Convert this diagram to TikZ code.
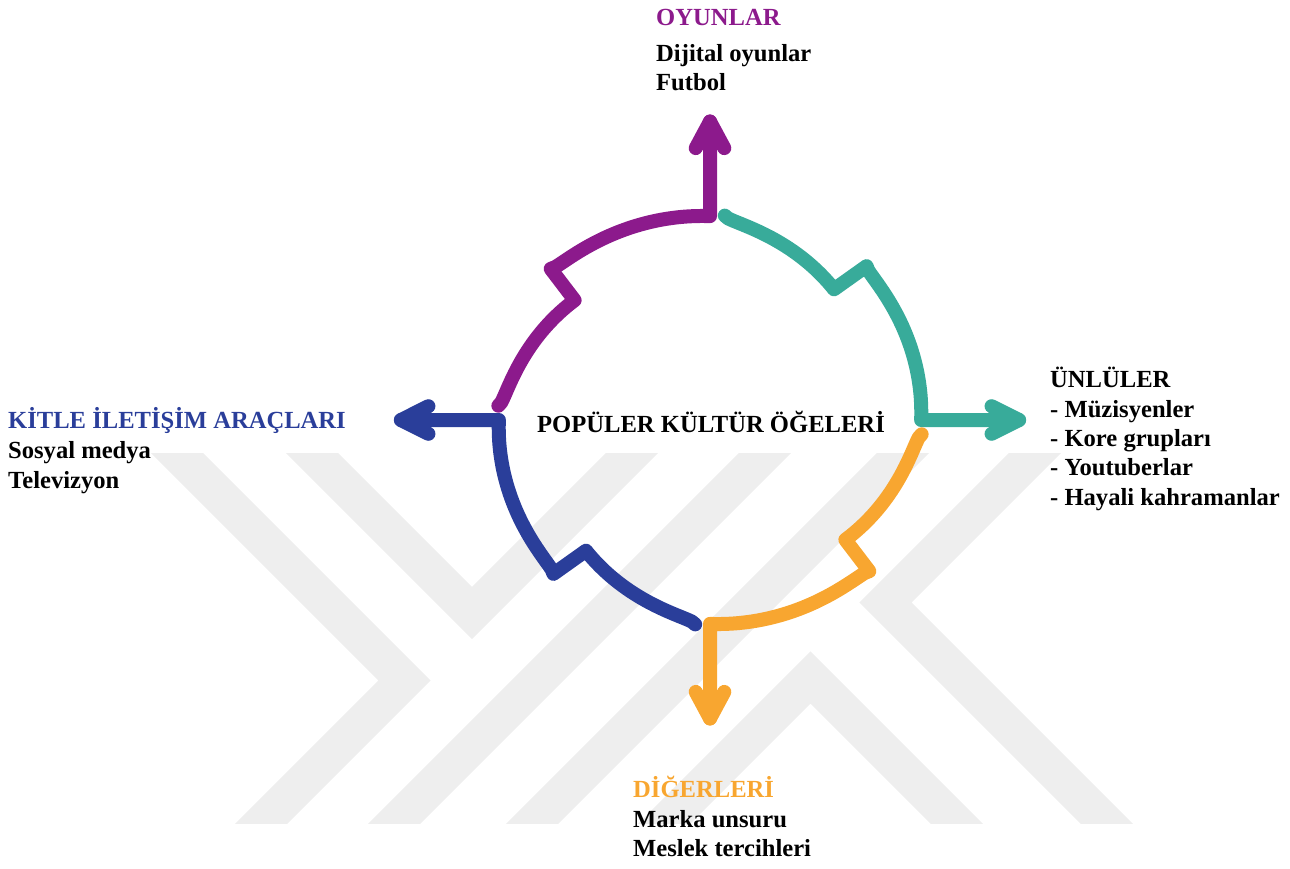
\documentclass[tikz,border=0pt]{standalone}
\usepackage{fontspec}
\setmainfont{Liberation Serif}
\definecolor{cpurple}{RGB}{140,26,140}
\definecolor{cteal}{RGB}{56,171,154}
\definecolor{corange}{RGB}{248,166,48}
\definecolor{cblue}{RGB}{42,62,154}
\definecolor{wm}{RGB}{238,238,238}
\begin{document}
\begin{tikzpicture}[x=1pt,y=1pt,
  declare function={rA(\t)=208-14*((86-\t)/38.5+sqrt((86-\t)/38.5)); rB(\t)=219-12*sqrt((45.5-\t)/45.5);},
  piece/.style={line width=14pt,line cap=round,line join=round},
  band/.style={line width=37pt,draw=wm,line join=miter},
  lbl/.style={anchor=base west,inner sep=0pt,font=\fontsize{24.6}{29.5}\selectfont\bfseries}]
\useasboundingbox (0,0) rectangle (1290,-868);
% background watermark
\begin{scope}
\clip (0,-453) rectangle (1290,-823);
\draw[band] (144,-420) -- (404.5,-680.5) -- (225,-860);
\draw[band] (279,-420) -- (472,-613) -- (665,-420);
\draw[band] (798,-420) -- (358,-860);
\draw[band] (936,-420) -- (496,-860);
\draw[band] (1068,-420) -- (885.5,-602.5) -- (1143,-860);
\draw[band] (628,-860) -- (810.5,-677.5) -- (993,-860);
\end{scope}
% four stepped arcs with arrows
\begin{scope}[shift={(710,-420)},xscale=1.02,yscale=0.985]
\foreach \ang/\col/\nm in {0/cteal/te,90/cpurple/pu,180/cblue/bl,270/corange/or}{
  \begin{scope}[rotate=\ang]
    \coordinate (\nm C) at (207,0);
    \coordinate (\nm T) at (303,0);
    \coordinate (\nm L) at (276,14);
    \coordinate (\nm R) at (276,-14);
    \draw[piece,draw=\col] plot[domain=86:47.5,samples=40] ({rA(\x)*cos(\x)},{rA(\x)*sin(\x)})
      -- plot[domain=45.5:0,samples=40] ({rB(\x)*cos(\x)},{rB(\x)*sin(\x)})
      -- (\nm C) -- (\nm T);
    \draw[piece,draw=\col] (\nm L) -- (\nm T) -- (\nm R);
  \end{scope}
}
\end{scope}
% texts
\node[lbl,text=cpurple] (oyT) at (656,-25) {OYUNLAR};
\node[lbl] (oy1) at (656,-61.5) {Dijital oyunlar};
\node[lbl] (oy2) at (656,-90.5) {Futbol};
\node[lbl,text=cblue] (kiT) at (8,-428) {KİTLE İLETİŞİM ARAÇLARI};
\node[lbl] (ki1) at (8,-458) {Sosyal medya};
\node[lbl] (ki2) at (8,-488) {Televizyon};
\node[lbl] (unT) at (1050,-387) {ÜNLÜLER};
\node[lbl] (un1) at (1050,-417) {- Müzisyenler};
\node[lbl] (un2) at (1050,-446) {- Kore grupları};
\node[lbl] (un3) at (1050,-475.5) {- Youtuberlar};
\node[lbl] (un4) at (1050,-505) {- Hayali kahramanlar};
\node[lbl,anchor=base] (center) at (711,-432) {POPÜLER KÜLTÜR ÖĞELERİ};
\node[lbl,text=corange] (diT) at (633,-797) {DİĞERLERİ};
\node[lbl] (di1) at (633,-827) {Marka unsuru};
\node[lbl] (di2) at (633,-856) {Meslek tercihleri};
\end{tikzpicture}
\end{document}
